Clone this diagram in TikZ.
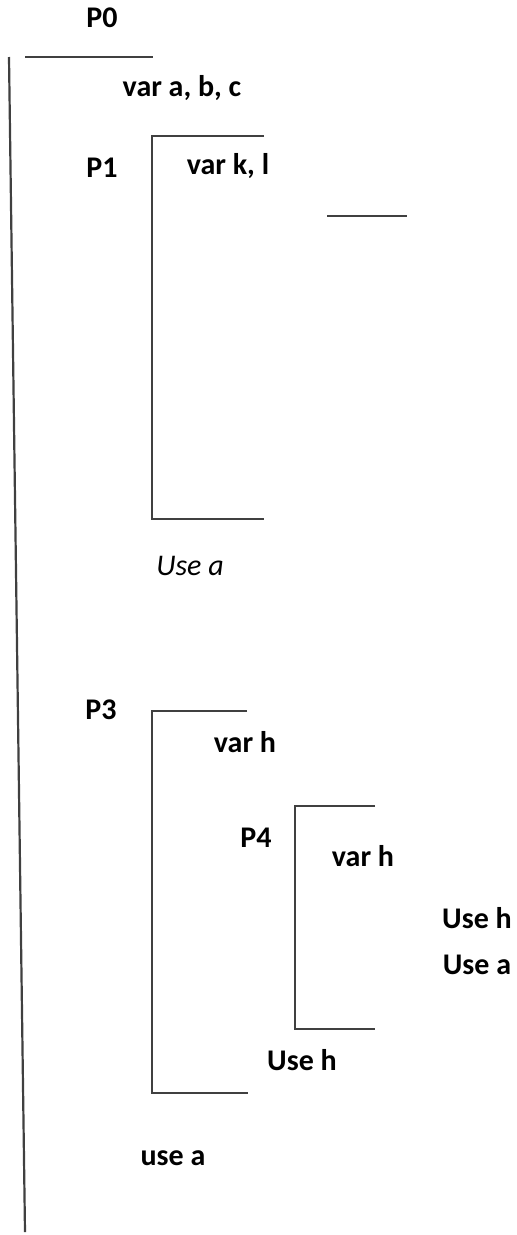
\documentclass[tikz,border=0pt]{standalone}
\usepackage{fontspec}
\setmainfont{Carlito}
\begin{document}
\begin{tikzpicture}[x=1pt,y=-1pt,
  rule/.style={line width=2.2pt, draw=black!75},
  lbl/.style={inner sep=0pt, font=\fontsize{30}{34}\selectfont\bfseries},
  itl/.style={inner sep=0pt, font=\fontsize{30}{34}\selectfont\itshape}]
\useasboundingbox (0,0) rectangle (517,1235);
% outer scope P0
\coordinate (p0top) at (9,57);
\coordinate (p0bot) at (25,1232);
\coordinate (p0rule) at (153,57);
\draw[rule] (p0top) -- (p0bot);
\draw[rule] (25,57) -- (p0rule);
\node[lbl] (p0) at (102,18) {P0};
\node[lbl] (varabc) at (182,88) {var a, b, c};
% P1
\coordinate (p1a) at (264,136);
\coordinate (p1b) at (152,136);
\coordinate (p1c) at (152,519);
\coordinate (p1d) at (264,519);
\draw[rule] (p1a) -- (p1b) -- (p1c) -- (p1d);
\node[lbl] (p1) at (102,168) {P1};
\node[lbl] (varkl) at (228,166) {var k, l};
\coordinate (sa) at (327,216);
\coordinate (sb) at (407,216);
\draw[rule] (sa) -- (sb);
\node[itl] (usea1) at (190,566) {Use a};
% P3
\coordinate (p3a) at (247,711);
\coordinate (p3b) at (152,711);
\coordinate (p3c) at (152,1093);
\coordinate (p3d) at (248,1093);
\draw[rule] (p3a) -- (p3b) -- (p3c) -- (p3d);
\node[lbl] (p3) at (101,710) {P3};
\node[lbl] (varh1) at (245,742) {var h};
% P4
\coordinate (p4a) at (375,806);
\coordinate (p4b) at (295,806);
\coordinate (p4c) at (295,1029);
\coordinate (p4d) at (375,1029);
\draw[rule] (p4a) -- (p4b) -- (p4c) -- (p4d);
\node[lbl] (p4) at (256,838) {P4};
\node[lbl] (varh2) at (363,856) {var h};
\node[lbl] (useh1) at (477,918) {Use h};
\node[lbl] (usea2) at (477,965) {Use a};
\node[lbl] (useh2) at (302,1060) {Use h};
\node[lbl] (usea3) at (173,1158) {use a};
\end{tikzpicture}
\end{document}
